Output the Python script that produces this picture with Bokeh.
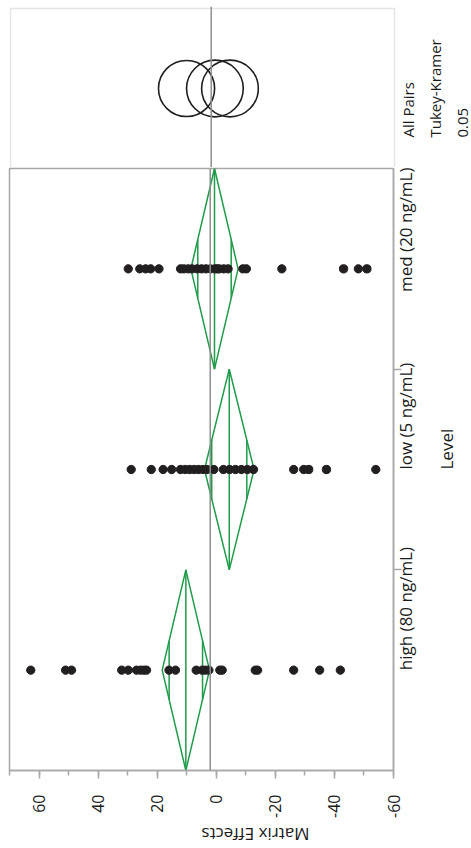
import math
from bokeh.plotting import figure
from bokeh.layouts import column
from bokeh.models import Range1d, SingleIntervalTicker, FixedTicker, Span, BoxAnnotation
from bokeh.core.properties import value
from bokeh.embed import file_html
from bokeh.resources import INLINE

# ---- data ----
levels = ["high (80 ng/mL)", "low (5 ng/mL)", "med (20 ng/mL)"]
high_vals = [62.8, 51.0, 49.0, 32.0, 29.8, 27.0, 25.6, 24.5, 23.6, 16.0, 13.8,
             6.8, 4.8, 3.7, 2.5, -1.2, -2.0, -13.2, -14.0, -26.2, -35.0, -42.0]
low_vals = [28.8, 22.0, 18.0, 15.1, 12.1, 10.5, 9.0, 7.5, 6.0, 4.5, 3.1, 0.8,
            -2.4, -4.5, -6.5, -8.5, -10.5, -12.6, -26.2, -29.6, -31.3, -37.3, -54.0]
med_vals = [29.8, 25.9, 23.9, 22.2, 19.4, 12.1, 11.0, 9.5, 8.2, 6.5, 5.0, 3.5,
            2.0, 0.5, -0.3, -1.0, -2.5, -4.0, -9.0, -10.2, -22.2, -43.1, -48.1, -51.0]
group_vals = [high_vals, low_vals, med_vals]

diamond_means = [10.3, -4.4, 0.6]
diamond_halfci = [8.0, 8.4, 8.0]
circle_centers = [10.4, -4.3, 0.8]
circle_radii = [9.5, 9.6, 9.6]
circle_labels = ["All Pairs", "Tukey-Kramer", "0.05"]
x_ticks = [60, 40, 20, 0, -20, -40, -60]

x_title = "Matrix Effects"
y_title = "Level"

FONT = "Open Sans"
GRAY = "#a8a8a8"
MEANGRAY = "#8f8f8f"
GREEN = "#1f9b4a"
TXT = "#1a1a1a"

X0, X1 = 70, -60
FRAME_W = 384
k = FRAME_W / (X0 - X1)  # px per unit

all_vals = [v for g in group_vals for v in g]
grand_mean = sum(all_vals) / len(all_vals)

# ---------------- top panel: comparison circles ----------------
a_x0 = X0 + 1 / k
a_x1 = a_x0 - 463 / k
top = figure(frame_width=463, frame_height=161, output_backend="svg", toolbar_location=None,
             x_range=Range1d(a_x0, a_x1), y_range=Range1d(1 / 160, 1 + 2 / 160),
             x_axis_location=None, y_axis_location=None,
             min_border_left=8, min_border_right=0, min_border_top=6, min_border_bottom=0)
top.grid.visible = False
top.outline_line_color = None
top.add_layout(BoxAnnotation(left=X0, right=X1, top=1, bottom=0, fill_color=None,
                             line_color=GRAY, line_width=1.5))
top.add_layout(Span(location=grand_mean, dimension="height", line_color=MEANGRAY, line_width=1.5))
top.circle(x=circle_centers, y=[0.5] * len(circle_centers), radius=circle_radii,
           radius_dimension="x", fill_color=None, line_color="#1e1e1e", line_width=1.6)
lab_off = [13, 40.5, 68]  # px right of the panel edge
top.text(x=[X1 - o / k for o in lab_off], y=[(168 - 137) / 160] * 3, text=circle_labels,
         angle=math.pi / 2, text_align="left", text_baseline="alphabetic",
         text_font=value(FONT), text_font_size="15px", text_color=TXT)

# ---------------- main panel ----------------
n_lv = len(levels)
p = figure(frame_width=FRAME_W, frame_height=602, output_backend="svg", toolbar_location=None,
           x_range=Range1d(X0, X1), y_range=Range1d(0, n_lv),
           x_axis_location="below", y_axis_location="right",
           min_border_left=9, min_border_top=1, min_border_right=78, min_border_bottom=78)
p.grid.visible = False
p.outline_line_color = GRAY
p.outline_line_width = 1.5

xa = p.xaxis[0]
xa.ticker = SingleIntervalTicker(interval=20, num_minor_ticks=2)
xa.major_label_overrides = {t: str(t) for t in x_ticks}
xa.major_label_orientation = math.pi / 2
xa.major_label_standoff = 16
xa.major_tick_out = 8
xa.major_tick_in = 0
xa.minor_tick_out = 5
xa.minor_tick_in = 0
for attr in ("axis_line", "major_tick_line", "minor_tick_line"):
    setattr(xa, attr + "_color", GRAY)
    setattr(xa, attr + "_width", 1.5)
xa.major_label_text_font = FONT
xa.major_label_text_font_size = "16px"
xa.major_label_text_color = TXT
xa.axis_label = x_title
xa.axis_label_orientation = math.pi
xa.axis_label_standoff = 14
xa.axis_label_text_font = FONT
xa.axis_label_text_font_size = "17px"
xa.axis_label_text_font_style = "normal"
xa.axis_label_text_color = TXT

centers = [i + 0.5 for i in range(n_lv)]
ya = p.yaxis[0]
ya.ticker = FixedTicker(ticks=centers, minor_ticks=[float(i) for i in range(1, n_lv)])
ya.major_label_overrides = {c: lv for c, lv in zip(centers, levels)}
ya.major_label_orientation = math.pi / 2
ya.major_label_standoff = 4
ya.major_tick_out = 0
ya.major_tick_in = 0
ya.minor_tick_out = 8
ya.minor_tick_in = 0
ya.axis_line_color = GRAY
ya.axis_line_width = 1.5
ya.minor_tick_line_color = GRAY
ya.minor_tick_line_width = 1.5
ya.major_label_text_font = FONT
ya.major_label_text_font_size = "17px"
ya.major_label_text_color = TXT
ya.axis_label = y_title
ya.axis_label_orientation = math.pi / 2
ya.axis_label_standoff = 15
ya.axis_label_text_font = FONT
ya.axis_label_text_font_size = "17px"
ya.axis_label_text_font_style = "normal"
ya.axis_label_text_color = TXT

p.add_layout(Span(location=grand_mean, dimension="height", line_color=MEANGRAY, line_width=1.5))

# diamonds
half_h = 0.5
dx, dy = [], []
mx0, my0, my1 = [], [], []
ox, oy0, oy1 = [], [], []
for c, m, h in zip(centers, diamond_means, diamond_halfci):
    dx.append([m + h, m, m - h, m])
    dy.append([c, c + half_h, c, c - half_h])
    mx0.append(m); my0.append(c - half_h); my1.append(c + half_h)
    ov = h / math.sqrt(2)
    frac = half_h * (1 - ov / h)
    for s in (-1, 1):
        ox.append(m + s * ov); oy0.append(c - frac); oy1.append(c + frac)
p.patches(dx, dy, fill_color=None, line_color=GREEN, line_width=1.5)
p.segment(x0=mx0, y0=my0, x1=mx0, y1=my1, line_color=GREEN, line_width=1.5)
p.segment(x0=ox, y0=oy0, x1=ox, y1=oy1, line_color=GREEN, line_width=1.5)

# points
px, py = [], []
for c, g in zip(centers, group_vals):
    px.extend(g); py.extend([c] * len(g))
p.scatter(px, py, size=8.3, fill_color="#231f20", line_color="#231f20")

layout = column(top, p, spacing=0)
open("out.html", "w").write(file_html(layout, INLINE))
